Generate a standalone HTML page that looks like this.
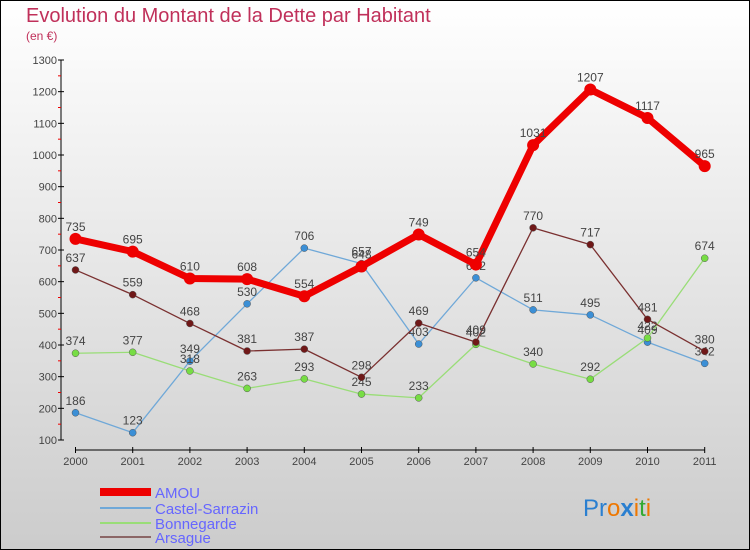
<!DOCTYPE html>
<html><head><meta charset="utf-8"><style>
body{margin:0}
svg{display:block;font-family:"Liberation Sans",sans-serif}
</style></head><body>
<svg id="c" width="750" height="550">
<defs><linearGradient id="bg" x1="0" y1="0" x2="0" y2="1"><stop offset="0" stop-color="#ffffff"/><stop offset="1" stop-color="#cccccc"/></linearGradient></defs>
<rect x="0.5" y="0.5" width="749" height="549" fill="url(#bg)" stroke="#000"/>
<text x="26" y="22" font-size="20" fill="#c0305a">Evolution du Montant de la Dette par Habitant</text>
<text x="26" y="40" font-size="12" fill="#c0305a">(en €)</text>
<g id="axes"></g><g id="series"></g>
<g>
<line x1="100" y1="492" x2="151" y2="492" stroke="#ee0000" stroke-width="8"/>
<text x="155" y="498" font-size="15" fill="#6666ff">AMOU</text>
<line x1="100" y1="508" x2="151" y2="508" stroke="#6fa8d8" stroke-width="2"/>
<text x="155" y="514" font-size="15" fill="#6666ff">Castel-Sarrazin</text>
<line x1="100" y1="523" x2="151" y2="523" stroke="#99dd77" stroke-width="2"/>
<text x="155" y="529" font-size="15" fill="#6666ff">Bonnegarde</text>
<line x1="100" y1="537" x2="151" y2="537" stroke="#8b6666" stroke-width="2"/>
<text x="155" y="543" font-size="15" fill="#6666ff">Arsague</text>
</g>
<text x="583" y="516" font-size="24"><tspan fill="#2a7fd0">Pr</tspan><tspan fill="#ee7700">o</tspan><tspan fill="#2a7fd0" font-weight="bold">x</tspan><tspan fill="#ee7700">i</tspan><tspan fill="#33aa33">t</tspan><tspan fill="#ee7700">i</tspan></text>
</svg>
<script>
const years=["2000","2001","2002","2003","2004","2005","2006","2007","2008","2009","2010","2011"];
const yTicks=[100,200,300,400,500,600,700,800,900,1000,1100,1200,1300];
const amou=[735,695,610,608,554,648,749,654,1031,1207,1117,965];
const castel=[186,123,349,530,706,657,403,612,511,495,409,342];
const bonnegarde=[374,377,318,263,293,245,233,402,340,292,422,674];
const arsague=[637,559,468,381,387,298,469,409,770,717,481,380];
const NS="http://www.w3.org/2000/svg";
function X(i){return 75.5+i*57.2;}
function Y(v){return 440-(v-100)*380/1200;}
function mk(t,a,p){const e=document.createElementNS(NS,t);for(const k in a)e.setAttribute(k,a[k]);p.appendChild(e);return e;}
const ax=document.getElementById('axes');
let l=mk('line',{x1:61,y1:Y(1300),x2:61,y2:Y(100),stroke:'#000','stroke-width':1},ax);


yTicks.forEach((v,i)=>{
 mk('line',{x1:58,y1:Y(v),x2:64,y2:Y(v),stroke:'#000'},ax);
 if(i<yTicks.length-1) mk('line',{x1:58,y1:Y(v+50),x2:61,y2:Y(v+50),stroke:'#e00'},ax);
 const t=mk('text',{x:57,y:Y(v)+4,'font-size':11,fill:'#444','text-anchor':'end'},ax);
 t.textContent=v;
 
 
});
l=mk('line',{x1:X(0),y1:450,x2:X(11),y2:450,stroke:'#000'},ax);


years.forEach((y,i)=>{
 mk('line',{x1:X(i),y1:447,x2:X(i),y2:453,stroke:'#000'},ax);
 const t=mk('text',{x:X(i),y:465,'font-size':11,fill:'#444','text-anchor':'middle'},ax);
 t.textContent=y;
 
 
});
const sg=document.getElementById('series');
function draw(vals,name,col,w,r,dot){
 const g=mk('g',{},sg);
 
 
 mk('polyline',{points:vals.map((v,i)=>X(i)+','+Y(v)).join(' '),fill:'none',stroke:col,'stroke-width':w,'stroke-linejoin':'round'},g);
 vals.forEach((v,i)=>{
  const c=mk('circle',{cx:X(i),cy:Y(v),r:r,fill:dot,stroke:'#555','stroke-width':w>3?0:0.5},g);
  
  
  const t=mk('text',{x:X(i),y:Y(v)-8,'font-size':12,fill:'#444','text-anchor':'middle'},g);
  t.textContent=v;
 });
}
draw(castel,'castel','#6fa8d8',1.3,3.5,'#3b8fd6');
draw(bonnegarde,'bonnegarde','#99dd77',1.3,3.5,'#77dd44');
draw(arsague,'arsague','#7a3030',1.3,3.5,'#701818');
draw(amou,'amou','#ee0000',7,6,'#ee0000');
</script>
</body></html>
